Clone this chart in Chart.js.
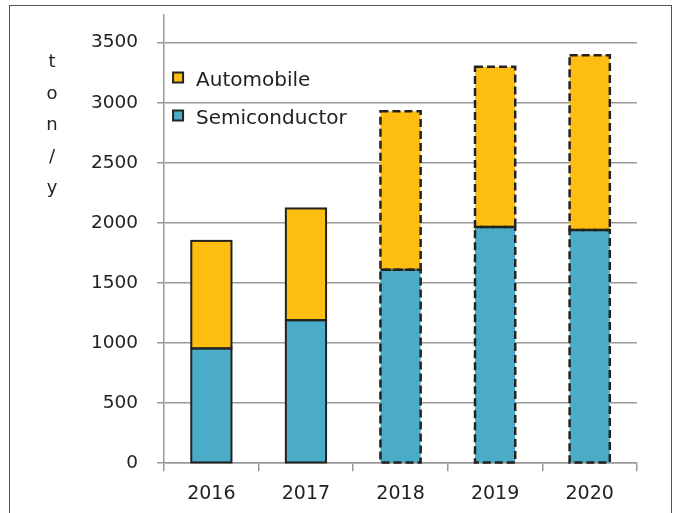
<!DOCTYPE html>
<html>
<head>
<meta charset="utf-8">
<title>Demand ton/y</title>
<script src="https://cdn.jsdelivr.net/npm/chart.js@4.4.0/dist/chart.umd.min.js"></script>
<style>
  html, body { margin: 0; padding: 0; background: #fff; }
  #wrap { position: relative; width: 678px; height: 513px; overflow: hidden; }
  #frame { position: absolute; left: 9px; top: 5px; width: 663px; height: 540px; border: 1.5px solid #555; box-sizing: border-box; }
  #chart { position: absolute; left: 0; top: 0; }
</style>
</head>
<body>
<div id="wrap">
  <div id="frame"></div>
  <canvas id="chart" width="678" height="513"></canvas>
</div>
<script>
// data
const years = ['2016', '2017', '2018', '2019', '2020']
const semiconductor = [955, 1190, 1610, 1965, 1940]
const automobile = [895, 930, 1320, 1335, 1455]
const forecast = [false, false, true, true, true]   // dashed outline = estimate
const yTicks = [0, 500, 1000, 1500, 2000, 2500, 3000, 3500]
const unitLetters = ['t', 'o', 'n', '/', 'y']

const YELLOW = '#FDBE11'
const BLUE = '#4AACC6'
const GRID = '#9a9a9a'
const INK = '#222'

Chart.defaults.font.family = '"DejaVu Sans", sans-serif'
Chart.defaults.font.size = 19
Chart.defaults.color = INK

// outlines: solid for actual, dashed for forecast
const barOutlines = {
  id: 'barOutlines',
  afterDatasetsDraw(chart) {
    const ctx = chart.ctx
    ctx.save()
    ctx.strokeStyle = INK
    chart.data.datasets.forEach((ds, di) => {
      chart.getDatasetMeta(di).data.forEach((bar, i) => {
        const p = bar.getProps(['x', 'y', 'base', 'width'], true)
        ctx.lineWidth = forecast[i] ? 2.5 : 2
        ctx.setLineDash(forecast[i] ? [8, 4] : [])
        ctx.strokeRect(p.x - p.width / 2, p.y, p.width, p.base - p.y)
      })
    })
    ctx.restore()
  }
}

// legend sitting inside the plot, top-left
const insideLegend = {
  id: 'insideLegend',
  afterDraw(chart) {
    const { ctx, chartArea } = chart
    const items = chart.data.datasets.slice().reverse()
    ctx.save()
    ctx.font = '20px "DejaVu Sans", sans-serif'
    ctx.textBaseline = 'middle'
    items.forEach((ds, k) => {
      const cy = 80 + k * 38
      const bx = chartArea.left + 9
      const by = cy - 2.5 - 5
      ctx.fillStyle = ds.backgroundColor
      ctx.fillRect(bx, by, 10, 10)
      ctx.strokeStyle = INK
      ctx.lineWidth = 2
      ctx.strokeRect(bx, by, 10, 10)
      ctx.fillStyle = INK
      ctx.fillText(ds.label, chartArea.left + 32, cy + 1)
    })
    ctx.restore()
  }
}

// vertical unit label, one letter per line
const unitLabel = {
  id: 'unitLabel',
  afterDraw(chart) {
    const ctx = chart.ctx
    ctx.save()
    ctx.font = '18px "DejaVu Sans", sans-serif'
    ctx.fillStyle = INK
    ctx.textAlign = 'center'
    ctx.textBaseline = 'alphabetic'
    unitLetters.forEach((ch, k) => {
      ctx.fillText(ch, 52, 67 + k * 31.5)
    })
    ctx.restore()
  }
}

new Chart(document.getElementById('chart'), {
  type: 'bar',
  data: {
    labels: years,
    datasets: [
      {
        label: 'Semiconductor',
        data: semiconductor,
        backgroundColor: BLUE,
        borderWidth: 0,
        barPercentage: 0.425,
        categoryPercentage: 1.0
      },
      {
        label: 'Automobile',
        data: automobile,
        backgroundColor: YELLOW,
        borderWidth: 0,
        barPercentage: 0.425,
        categoryPercentage: 1.0
      }
    ]
  },
  options: {
    responsive: false,
    animation: false,
    layout: { padding: { left: 72, right: 41, top: 15, bottom: -3 } },
    plugins: {
      legend: { display: false },
      tooltip: { enabled: false }
    },
    scales: {
      x: {
        stacked: true,
        grid: {
          display: true,
          drawOnChartArea: false,
          drawTicks: true,
          tickLength: 8,
          color: GRID,
          lineWidth: 1.5,
          offset: true
        },
        border: { display: true, color: GRID, width: 1.5 },
        ticks: { padding: 11, color: INK }
      },
      y: {
        stacked: true,
        min: 0,
        max: 3730,
        afterBuildTicks(scale) {
          scale.ticks = yTicks.map(v => ({ value: v }))
        },
        afterFit(scale) {
          // top label sits well below the axis top, no extra room needed
          scale.paddingTop = 0
        },
        ticks: {
          padding: 19,
          color: INK,
          autoSkip: false,
          font: { size: 18.5 },
          callback: v => String(v)
        },
        grid: {
          color: GRID,
          lineWidth: 1.5,
          drawTicks: true,
          tickLength: 7
        },
        border: { display: true, color: GRID, width: 1.5 }
      }
    }
  },
  plugins: [barOutlines, insideLegend, unitLabel]
})
</script>
</body>
</html>
